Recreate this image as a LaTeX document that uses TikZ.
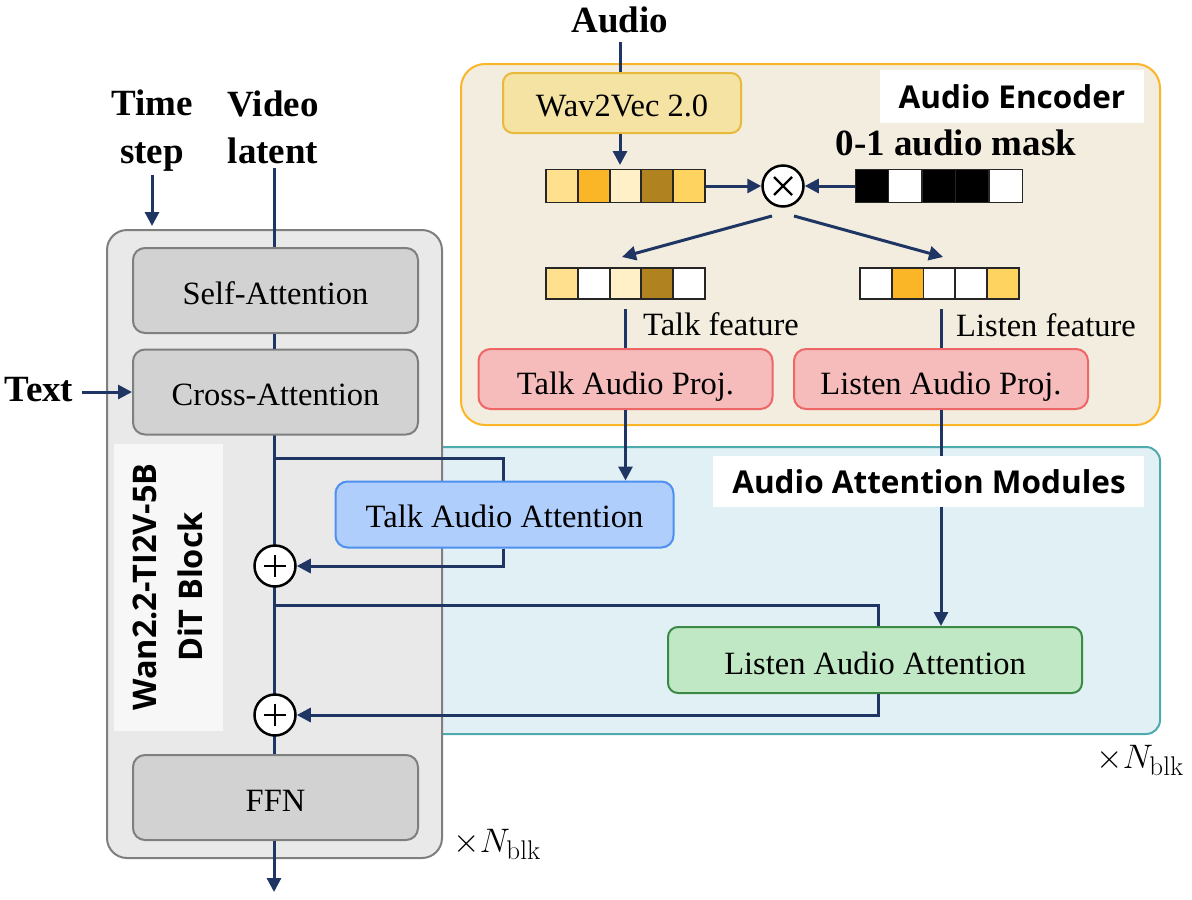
\RequirePackage{fix-cm}
\documentclass[tikz,border=0pt]{standalone}
\usepackage{fontspec}
\usetikzlibrary{arrows.meta}
\DeclareMathSizes{34}{34}{27}{20}
\newfontfamily\serifface{Liberation Serif}
\newfontfamily\sansface{Open Sans}
\newcommand{\fs}[1]{\fontsize{#1}{#1}\selectfont}
\definecolor{navy}{HTML}{1F3564}
\definecolor{cA}{HTML}{FFE08F}
\definecolor{cB}{HTML}{FBB627}
\definecolor{cC}{HTML}{FFF0C7}
\definecolor{cD}{HTML}{B18220}
\definecolor{cE}{HTML}{FFD35F}
\definecolor{encfill}{HTML}{F3EDDF}
\definecolor{attfill}{HTML}{E1F0F4}
\definecolor{attline}{HTML}{4FAAAE}
\definecolor{ditfill}{HTML}{E9E9E9}
\definecolor{gfill}{HTML}{D2D2D2}
\definecolor{gline}{HTML}{7F7F7F}
\definecolor{wavfill}{HTML}{F5E3A3}
\definecolor{wavline}{HTML}{E8B93A}
\definecolor{redfill}{HTML}{F6BCBC}
\definecolor{redline}{HTML}{EE6666}
\definecolor{bluefill}{HTML}{B0CEFB}
\definecolor{blueline}{HTML}{4E90F0}
\definecolor{grnfill}{HTML}{C1E8C5}
\definecolor{grnline}{HTML}{3A8A45}
\tikzset{
  box/.style={draw,line width=2pt,rounded corners=12pt,inner sep=0pt,font=\serifface\fs{32.5},text=black,text height=28pt,text depth=0pt},
  gbox/.style={box,draw=gline,fill=gfill},
  conn/.style={draw=navy,line width=3pt},
  arr/.style={conn,-{Triangle[length=14pt,width=14pt]}},
  cell/.style={draw=black!85,line width=1.5pt,inner sep=0pt,minimum width=32pt,minimum height=33pt},
  lowcell/.style={cell,minimum height=31pt},
  op/.style={circle,draw=black,fill=white,line width=2.5pt,minimum size=41pt,inner sep=0pt},
  bigserif/.style={font=\serifface\bfseries\fs{37},text=black,align=center,inner sep=0pt},
  sanslabel/.style={font=\sansface\bfseries\fs{31.5},text=black,align=center,inner sep=0pt},
  featlabel/.style={font=\serifface\fs{32.5},text=black,inner sep=0pt},
  panel/.style={fill=white,inner sep=0pt}
}
\begin{document}
\begin{tikzpicture}[x=1pt,y=-1pt]
\useasboundingbox (0,0) rectangle (1192,900);
% containers
\node[draw=attline,fill=attfill,line width=2pt,rounded corners=14pt,minimum width=780pt,minimum height=287pt,inner sep=0pt] (attn) at (770,590.5) {};
\node[draw=gline,fill=ditfill,line width=2pt,rounded corners=20pt,minimum width=335pt,minimum height=628pt,inner sep=0pt] (dit) at (274.5,544) {};
\node[draw=cB,fill=encfill,line width=2pt,rounded corners=24pt,minimum width=699pt,minimum height=361pt,inner sep=0pt] (enc) at (810.5,244.5) {};
% panels
\node[panel,minimum width=264pt,minimum height=53pt] (encp) at (1012,96.5) {};
\node[panel,fill=black!3,minimum width=109pt,minimum height=287pt] (ditp) at (168.5,587.5) {};
\node[sanslabel] (enct) at (1012,97) {Audio Encoder};
\node[sanslabel,font=\sansface\bfseries\fs{32.5},rotate=90] (ditt) at (168,587) {Wan2.2-TI2V-5B\\[13pt]DiT Block};
% outer labels
\node[bigserif] (audio) at (620,20) {Audio};
\node[bigserif] (time) at (152,130.5) {Time\\[11pt]step};
\node[bigserif] (video) at (273,127) {Video\\[10pt]latent};
\node[bigserif] (text) at (39,390) {Text};
\node[bigserif] (mask) at (956,143) {0-1 audio mask};
\node[font=\fs{34},inner sep=0pt] (n1) at (497,844) {$\times N_{\mathrm{blk}}$};
\node[font=\fs{34},inner sep=0pt] (n2) at (1140,760) {$\times N_{\mathrm{blk}}$};
\node[featlabel] (tf) at (721,324) {Talk feature};
\node[featlabel] (lf) at (1046,325) {Listen feature};
% free ends
\coordinate (videotop) at (274,168);
\coordinate (audiotop) at (620,42);
\coordinate (timetop) at (152,175);
\coordinate (timeend) at (152,226);
\coordinate (texts) at (82,392);
\coordinate (outend) at (274,892);
\coordinate (j1) at (274,458);
\coordinate (j2) at (274,605);
\coordinate (tk) at (503,458);
\coordinate (tk2) at (503,566);
\coordinate (ls) at (878,605);
\coordinate (ls2) at (878,715);
\coordinate (ms1) at (772,216);
\coordinate (me1) at (622,257);
\coordinate (ms2) at (794,216);
\coordinate (me2) at (943,257);
\coordinate (ts) at (625,309);
\coordinate (ls3) at (941,309);
% cells
\node[cell,fill=cA] (a1) at (562,186) {};
\node[cell,fill=cB] (a2) at (594,186) {};
\node[cell,fill=cC] (a3) at (626,186) {};
\node[cell,fill=cD] (a4) at (657,186) {};
\node[cell,fill=cE] (a5) at (689,186) {};
\node[cell,fill=black,minimum width=33pt] (m1) at (872,186) {};
\node[cell,fill=white,minimum width=33pt] (m2) at (905,186) {};
\node[cell,fill=black,minimum width=33pt] (m3) at (939,186) {};
\node[cell,fill=black,minimum width=33pt] (m4) at (972,186) {};
\node[cell,fill=white,minimum width=33pt] (m5) at (1006,186) {};
\node[lowcell,fill=cA] (b1) at (562,283.5) {};
\node[lowcell,fill=white] (b2) at (594,283.5) {};
\node[lowcell,fill=cC] (b3) at (626,283.5) {};
\node[lowcell,fill=cD] (b4) at (657,283.5) {};
\node[lowcell,fill=white] (b5) at (689,283.5) {};
\node[lowcell,fill=white] (c1) at (876,283.5) {};
\node[lowcell,fill=cB] (c2) at (908,283.5) {};
\node[lowcell,fill=white] (c3) at (939.5,283.5) {};
\node[lowcell,fill=white] (c4) at (971,283.5) {};
\node[lowcell,fill=cE] (c5) at (1003,283.5) {};
% connectors under boxes
\draw[conn] (videotop) -- (274,300);
\draw[conn] (274,400) -- (j1) -- (274,546);
\draw[conn] (274,587) -- (j2) -- (274,694);
\draw[conn] (274,736) -- (274,770);
\draw[conn] (j1) -- (tk) -- (503,500);
\draw[conn] (j2) -- (ls) -- (878,640);
\draw[conn] (audiotop) -- (620,90);
\draw[conn] (ts) -- (625,360);
\draw[conn] (ls3) -- (941,360);
% boxes
\node[box,draw=wavline,fill=wavfill,rounded corners=10pt,minimum width=238pt,minimum height=60pt,text height=26pt] (wav) at (622,103) {Wav2Vec 2.0};
\node[gbox,minimum width=285pt,minimum height=85pt] (self) at (275.5,290.5) {Self-Attention};
\node[gbox,minimum width=285pt,minimum height=85pt,text height=26pt] (cross) at (275.5,392) {Cross-Attention};
\node[gbox,minimum width=285pt,minimum height=85pt] (ffn) at (275.5,797.5) {FFN};
\node[box,draw=redline,fill=redfill,minimum width=294pt,minimum height=60pt,text height=30pt] (tproj) at (625.5,379) {Talk Audio Proj.};
\node[box,draw=redline,fill=redfill,minimum width=294pt,minimum height=60pt,text height=30pt] (lproj) at (941,379) {Listen Audio Proj.};
\node[box,draw=blueline,fill=bluefill,minimum width=338pt,minimum height=66pt,text height=26pt] (talk) at (504.5,514.5) {Talk Audio Attention};
\node[box,draw=grnline,fill=grnfill,rounded corners=10pt,minimum width=414pt,minimum height=66pt] (listen) at (875,660) {Listen Audio Attention};
\node[op] (plus1) at (275,566) {};
\node[op] (plus2) at (275,715) {};
\node[op] (mul) at (783,186) {};
\draw[black,line width=2pt] (plus1.center) +(-11,0) -- +(11,0) +(0,-11) -- +(0,11);
\draw[black,line width=2pt] (plus2.center) +(-11,0) -- +(11,0) +(0,-11) -- +(0,11);
\draw[black,line width=2.2pt] (mul.center) +(-9,-9) -- +(9,9) +(-9,9) -- +(9,-9);
% connectors
\draw[arr] (timetop) -- (timeend);
\draw[arr] (texts) -- (cross.west);
\draw[conn] (self.south -| videotop) -- (cross.north -| videotop);
\draw[conn] (plus2.south -| videotop) -- (ffn.north -| videotop);
\draw[arr] (ffn.south -| outend) -- (outend);
\draw[arr] (tk2 |- talk.south) -- (tk2) -- (plus1.east);
\draw[arr] (ls2 |- listen.south) -- (ls2) -- (plus2.east);
\draw[arr] (wav.south -| audiotop) -- (620,165);
\draw[arr] (a5.east) -- (mul.west);
\draw[arr] (m1.west) -- (mul.east);
\draw[arr] (ms1) -- (me1);
\draw[arr] (ms2) -- (me2);
\draw[arr] (tproj.south) -- (talk.north -| tproj.south);
\draw[arr] (lproj.south) -- (listen.north -| lproj.south);
% panel that covers the connector
\node[panel,minimum width=431pt,minimum height=51pt] (attp) at (928.5,481.5) {};
\node[sanslabel] (attt) at (929,482) {Audio Attention Modules};
\end{tikzpicture}
\end{document}
